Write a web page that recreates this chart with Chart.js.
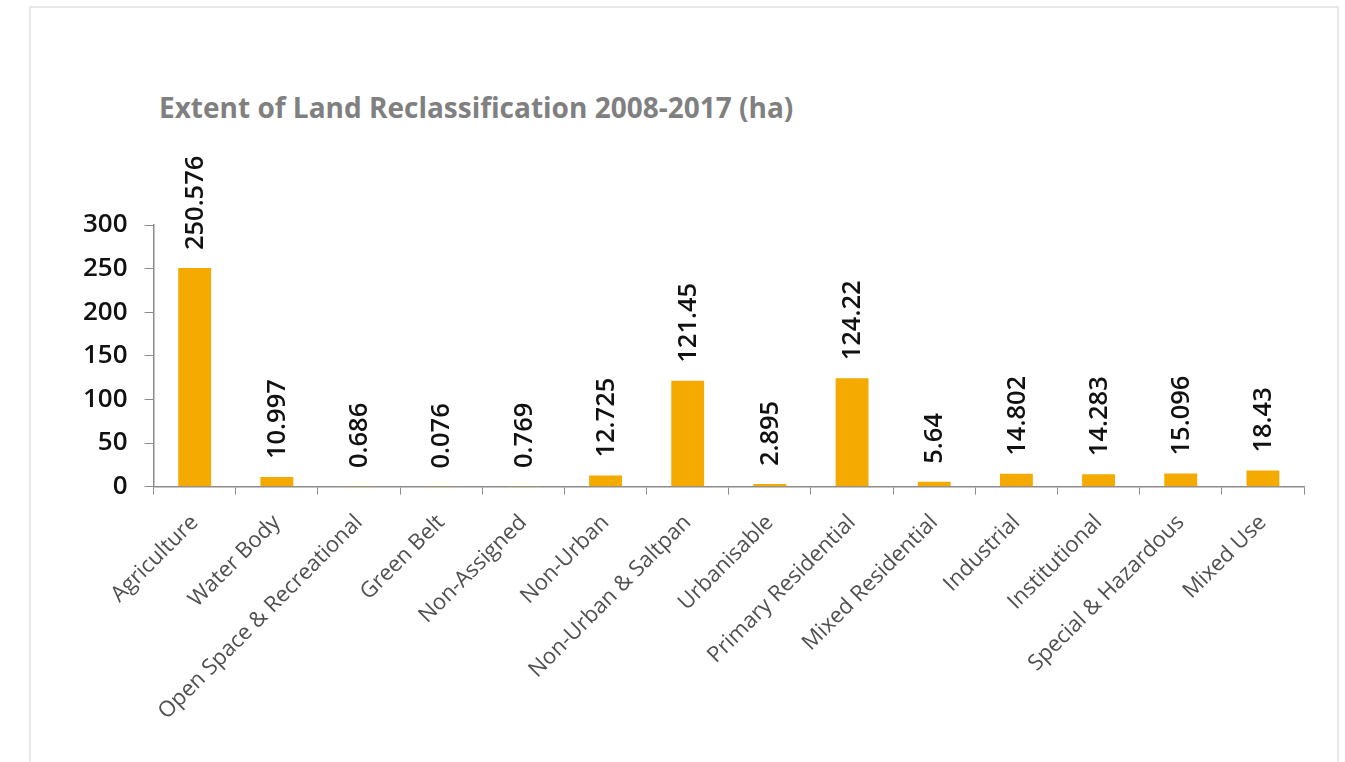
<!DOCTYPE html>
<html>
<head>
<meta charset="utf-8">
<script src="https://cdn.jsdelivr.net/npm/chart.js@4.4.0/dist/chart.umd.min.js"></script>
<style>
  html, body { margin: 0; padding: 0; background: #fff; }
  body { width: 1345px; height: 762px; position: relative; overflow: hidden; font-family: "Open Sans", sans-serif; }
  .card { position: absolute; left: 29px; top: 6px; width: 1310px; height: 800px; border: 2px solid #e8e8e8; box-sizing: border-box; }
  .titulo { position: absolute; left: 159px; top: 88px; margin: 0; font-size: 28px; font-weight: 700; color: #808080; white-space: nowrap; }
  #grafico { position: absolute; left: 0; top: 0; }
</style>
</head>
<body>
<div class="card"></div>
<h2 class="titulo">Extent of Land Reclassification 2008-2017 (ha)</h2>
<canvas id="grafico" width="1345" height="762"></canvas>
<script>
// categorias e valores (ha)
const categorias = ["Agriculture", "Water Body", "Open Space & Recreational", "Green Belt", "Non-Assigned", "Non-Urban", "Non-Urban & Saltpan", "Urbanisable", "Primary Residential", "Mixed Residential", "Industrial", "Institutional", "Special & Hazardous", "Mixed Use"];
const valores = [250.576, 10.997, 0.686, 0.076, 0.769, 12.725, 121.45, 2.895, 124.22, 5.64, 14.802, 14.283, 15.096, 18.43];
const ticksY = [0, 50, 100, 150, 200, 250, 300];

const corBarra = "#F4AA00";
const corEixo = "#8c8c8c";

// rótulos verticais acima de cada barra
const rotulosValores = {
    id: "rotulosValores",
    afterDatasetsDraw(chart) {
        const ctx = chart.ctx;
        const meta = chart.getDatasetMeta(0);
        ctx.save();
        ctx.fillStyle = "#111";
        ctx.font = "600 25.5px 'Open Sans'";
        ctx.textAlign = "left";
        ctx.textBaseline = "middle";
        meta.data.forEach(function(barra, i) {
            ctx.save();
            ctx.translate(barra.x + 1, barra.y - 18);
            ctx.rotate(-Math.PI / 2);
            ctx.fillText(String(valores[i]), 0, 0);
            ctx.restore();
        });
        ctx.restore();
    }
};

var ctx = document.getElementById("grafico").getContext("2d");
var grafico = new Chart(ctx, {
    type: "bar",
    data: {
        labels: categorias,
        datasets: [{
            data: valores,
            backgroundColor: corBarra,
            barPercentage: 0.4,
            categoryPercentage: 1.0
        }]
    },
    options: {
        responsive: false,
        animation: false,
        devicePixelRatio: 1,
        layout: { padding: { top: 225, left: 66, right: 41, bottom: 22 } },
        plugins: {
            legend: { display: false },
            tooltip: { enabled: false }
        },
        scales: {
            x: {
                grid: { display: true, drawOnChartArea: false, drawTicks: true, tickLength: 8, color: corEixo, offset: true },
                border: { display: true, color: corEixo, width: 1.5 },
                ticks: {
                    autoSkip: false,
                    maxRotation: 45,
                    minRotation: 45,
                    padding: 15,
                    color: "#505050",
                    font: { family: "'Open Sans'", size: 22, weight: "400" }
                }
            },
            y: {
                min: 0,
                max: 300,
                afterBuildTicks: function(eixo) {
                    eixo.ticks = ticksY.map(function(v) { return { value: v }; });
                },
                grid: { display: true, drawOnChartArea: false, drawTicks: true, tickLength: 9, color: corEixo },
                border: { display: true, color: corEixo, width: 1.5 },
                ticks: {
                    padding: 17,
                    color: "#111",
                    font: { family: "'Open Sans'", size: 26, weight: "600" }
                }
            }
        }
    },
    plugins: [rotulosValores]
});
</script>
</body>
</html>
